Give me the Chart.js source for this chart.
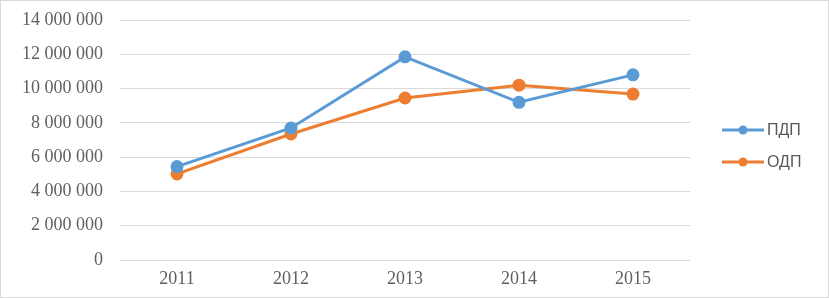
<!DOCTYPE html>
<html>
<head>
<meta charset="utf-8">
<script src="https://cdn.jsdelivr.net/npm/chart.js@4/dist/chart.umd.min.js"></script>
<style>
  html, body { margin: 0; padding: 0; background: #fff; }
  .box { width: 829px; height: 298px; box-sizing: border-box; border: 1px solid #d9d9d9; }
  canvas { display: block; }
</style>
</head>
<body>
<div class="box"><canvas id="ch" width="827" height="296"></canvas></div>
<script>
// years and series values
const years = ['2011', '2012', '2013', '2014', '2015'];
const pdp = [5450000, 7700000, 11850000, 9200000, 10800000];
const odp = [5020000, 7350000, 9450000, 10200000, 9680000];
const yTicks = [0, 2000000, 4000000, 6000000, 8000000, 10000000, 12000000, 14000000];

const BLUE = '#5b9bd5', ORANGE = '#ed7d31';
const SERIF = '"Liberation Serif", "Times New Roman", serif';

function spaced(v) {
  return String(v).replace(/\B(?=(\d{3})+(?!\d))/g, ' ');
}

// legend: line with a dot in the middle, on the right
const sideLegend = {
  id: 'sideLegend',
  afterDraw(chart) {
    const ctx = chart.ctx;
    const x0 = 721, y0 = 129, gap = 32;
    chart.data.datasets.forEach((ds, i) => {
      const y = y0 + i * gap;
      ctx.save();
      ctx.strokeStyle = ds.borderColor;
      ctx.lineWidth = 3;
      ctx.beginPath();
      ctx.moveTo(x0, y);
      ctx.lineTo(x0 + 42, y);
      ctx.stroke();
      ctx.fillStyle = ds.borderColor;
      ctx.beginPath();
      ctx.arc(x0 + 21, y, 4.5, 0, Math.PI * 2);
      ctx.fill();
      ctx.fillStyle = '#595959';
      ctx.font = '16px "Liberation Sans", Arial, sans-serif';
      ctx.textBaseline = 'middle';
      ctx.fillText(ds.label, x0 + 45, y + 1);
      ctx.restore();
    });
  }
};

new Chart(document.getElementById('ch').getContext('2d'), {
  type: 'line',
  data: {
    labels: years,
    datasets: [
      {
        label: 'ПДП', data: pdp,
        borderColor: BLUE, backgroundColor: BLUE,
        borderWidth: 3, pointRadius: 5, pointHoverRadius: 5, tension: 0
      },
      {
        label: 'ОДП', data: odp,
        borderColor: ORANGE, backgroundColor: ORANGE,
        borderWidth: 3, pointRadius: 5, pointHoverRadius: 5, tension: 0
      }
    ]
  },
  options: {
    responsive: false,
    animation: false,
    layout: { padding: { top: 19, right: 138, left: 0, bottom: 0 } },
    plugins: { legend: { display: false }, tooltip: { enabled: false } },
    scales: {
      x: {
        offset: true,
        grid: { display: false },
        border: { display: false },
        ticks: {
          color: '#606060', padding: 0,
          font: { family: SERIF, size: 18 }
        },
        afterFit(s) { s.height = 37; s.paddingLeft = 0; s.paddingRight = 0; }
      },
      y: {
        min: 0, max: 14000000,
        afterBuildTicks(s) { s.ticks = yTicks.map(v => ({ value: v })); },
        grid: { color: '#d9d9d9', lineWidth: 1, drawTicks: false },
        border: { display: false },
        ticks: {
          color: '#606060', padding: 17,
          font: { family: SERIF, size: 18 },
          callback: v => spaced(v)
        },
        afterFit(s) { s.width = 119; s.paddingTop = 0; s.paddingBottom = 0; }
      }
    }
  },
  plugins: [sideLegend]
});
</script>
</body>
</html>
